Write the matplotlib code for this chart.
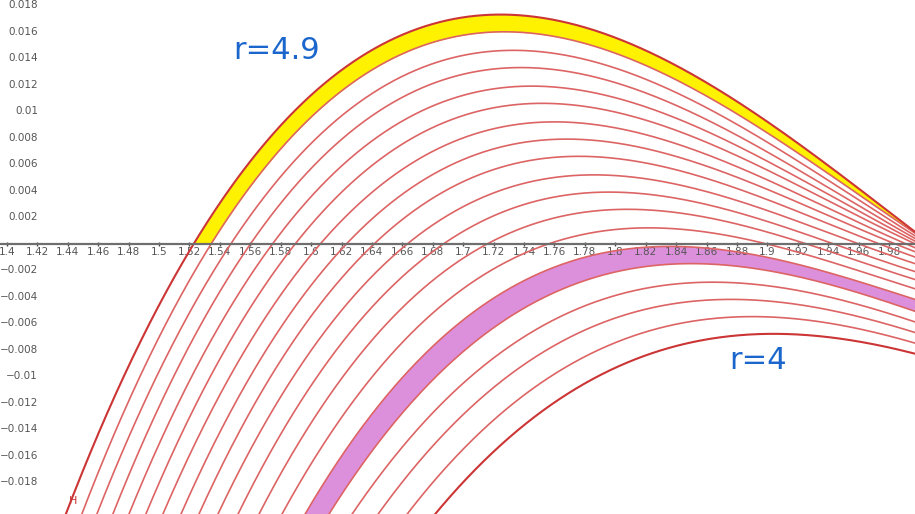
import numpy as np
import matplotlib as mpl
mpl.use('Agg')
import matplotlib.pyplot as plt

# family of curves, r = 4.0 ... 4.9
r_vals = [4.0, 4.05, 4.1, 4.15, 4.2, 4.25, 4.3, 4.35, 4.4, 4.45,
          4.5, 4.55, 4.6, 4.65, 4.7, 4.75, 4.8, 4.85, 4.9]
# x and y of each curve's maximum
peak_x = [1.904, 1.890, 1.876, 1.864, 1.850, 1.836, 1.822, 1.808, 1.796,
          1.786, 1.776, 1.768, 1.760, 1.752, 1.745, 1.738, 1.733, 1.727,
          1.7245]
peak_y = [-0.0068, -0.0055, -0.0042, -0.0029, -0.0015, -0.0002, 0.0012,
          0.0026, 0.0039, 0.0052, 0.0066, 0.0079, 0.0092, 0.0106, 0.0119,
          0.0133, 0.0146, 0.0160, 0.0173]
# x where each curve leaves the bottom edge (y = -0.0204)
left_x = [1.6816, 1.6632, 1.6441, 1.6270, 1.6118, 1.5961, 1.5809, 1.5658,
          1.5520, 1.5388, 1.5263, 1.5145, 1.5026, 1.4914, 1.4803, 1.4697,
          1.4592, 1.4493, 1.4388]
# y of each curve at the right edge (x = 1.997)
right_y = [-0.0083, -0.0075, -0.0067, -0.0059, -0.0051, -0.0042, -0.0034,
           -0.0027, -0.0021, -0.0015, -0.0010, -0.0006, -0.0003, 0.0,
           0.0002, 0.0004, 0.0006, 0.0008, 0.0009]

x_min, x_max = 1.3955, 1.997
y_min, y_max = -0.0204, 0.0184
x_ticks = np.round(np.arange(1.40, 1.99, 0.02), 2)
y_ticks = [0.018, 0.016, 0.014, 0.012, 0.01, 0.008, 0.006, 0.004, 0.002,
           -0.002, -0.004, -0.006, -0.008, -0.01, -0.012, -0.014, -0.016,
           -0.018]


def curve(xx, xp, yp, xl, yr):
    """
    cubic with a maximum at (xp, yp) passing through (xl, y_min)
    and (x_max, yr)
    """
    dl = xl - xp
    dr = x_max - xp
    A = np.array([[dl**2, dl**3], [dr**2, dr**3]])
    rhs = np.array([y_min - yp, yr - yp])
    a, b = np.linalg.solve(A, rhs)
    d = xx - xp
    return yp + a * d**2 + b * d**3


fig = plt.figure(figsize=(9.15, 5.14), dpi=100)
ax = fig.add_axes([0, 0, 1, 1])
xx = np.linspace(1.38, 2.01, 800)
ys = [curve(xx, peak_x[i], peak_y[i], left_x[i], right_y[i])
      for i in range(len(r_vals))]
#
# yellow band r=4.85..4.9 above the x axis, pink band r=4.2..4.25
top = ys[18]
low = np.maximum(ys[17], 0.0)
ax.fill_between(xx, low, top, where=(top > low), color='#fff200', lw=0,
                zorder=1)
ax.fill_between(xx, ys[4], ys[5], color='#dc90dc', lw=0, zorder=1)
for i in range(len(r_vals)):
    if i in (0, len(r_vals) - 1):
        ax.plot(xx, ys[i], color='#cc3535', lw=1.5, zorder=3)
    else:
        ax.plot(xx, ys[i], color='#dd6464', lw=1.2, zorder=3)
#
ax.set_xlim(x_min, x_max)
ax.set_ylim(y_min, y_max)
for side in ['left', 'right', 'top']:
    ax.spines[side].set_visible(False)
ax.spines['bottom'].set_position(('data', 0))
ax.spines['bottom'].set_color('#6e6e6e')
ax.spines['bottom'].set_linewidth(1.6)
ax.spines['bottom'].set_zorder(4)
ax.set_xticks(x_ticks)
ax.set_xticklabels(['%g' % v for v in x_ticks])
ax.tick_params(axis='x', direction='inout', length=3, width=1,
               color='#444444', labelsize=7.5, labelcolor='#555555', pad=1)
ax.set_yticks([])
for v in y_ticks:
    lab = ('%g' % v).replace('-', '\u2212')
    ax.text(0.0415, v, lab, transform=ax.get_yaxis_transform(),
            ha='right', va='center', fontsize=7.5, color='#555555')
#
ax.text(1.5487, 0.0146, 'r=4.9', fontsize=22, color='#1a66cc',
        ha='left', va='center')
ax.text(1.8746, -0.0088, 'r=4', fontsize=22, color='#1a66cc',
        ha='left', va='center')
ax.text(1.4405, -0.0194, 'H', fontsize=8, color='#cc3535',
        ha='left', va='center')
plt.savefig('out.png', dpi=100)
